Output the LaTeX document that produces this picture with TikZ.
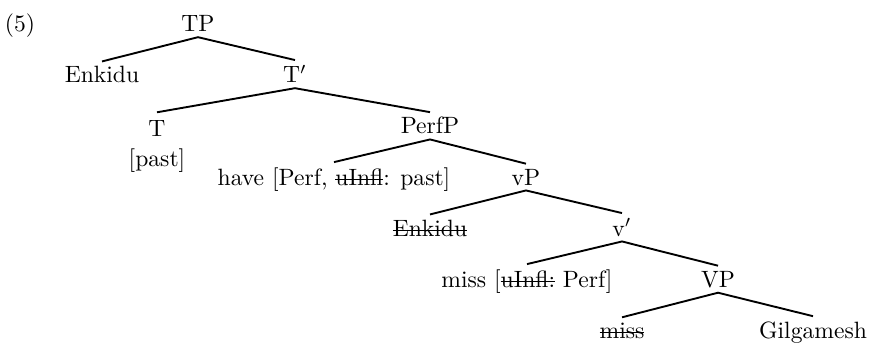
\documentclass[tikz,border=0pt]{standalone}
\usepackage{amsmath}
\usepackage{tikz}
\usetikzlibrary{positioning}
\newsavebox{\strikebox}
\newcommand{\struck}[1]{\sbox{\strikebox}{#1}\rlap{\raisebox{0.5ex}{\rule{\wd\strikebox}{0.4pt}}}\usebox{\strikebox}}

\begin{document}
\begin{tikzpicture}[x=0.4237pt,y=-0.4237pt,
  cat/.style={anchor=base,inner sep=2pt,align=center},
  branch/.style={thick}]
\useasboundingbox (0,0) rectangle (869,345);
\node[cat] (ex) at (20,32) {(5)};
\node[cat] (tp) at (198,32) {TP};
\node[cat] (enk) at (102,83) {Enkidu};
\node[cat] (tbar) at (295,83) {T$'$};
\node[cat,inner ysep=3.5pt] (t) at (157,137) {T};
\node[cat] (past) at (157,167) {[past]};
\node[cat] (perfp) at (430,134) {PerfP};
\node[cat] (have) at (334,185) {have [Perf, \struck{uInfl}: past]};
\node[cat] (vp) at (526,185) {vP};
\node[cat] (enkb) at (430,236) {\struck{Enkidu}};
\node[cat] (vbar) at (622,236) {v$'$};
\node[cat] (miss) at (527,287) {miss [\struck{uInfl:} Perf]};
\node[cat] (bigvp) at (718,287) {VP};
\node[cat] (missb) at (622,338) {\struck{miss}};
\node[cat] (gil) at (813,338) {Gilgamesh};
\draw[branch] (enk.north) -- (tp.south) -- (tbar.north);
\draw[branch] (t.north) -- (tbar.south) -- (perfp.north);
\draw[branch] (have.north) -- (perfp.south) -- (vp.north);
\draw[branch] (enkb.north) -- (vp.south) -- (vbar.north);
\draw[branch] (miss.north) -- (vbar.south) -- (bigvp.north);
\draw[branch] (missb.north) -- (bigvp.south) -- (gil.north);
\end{tikzpicture}
\end{document}
